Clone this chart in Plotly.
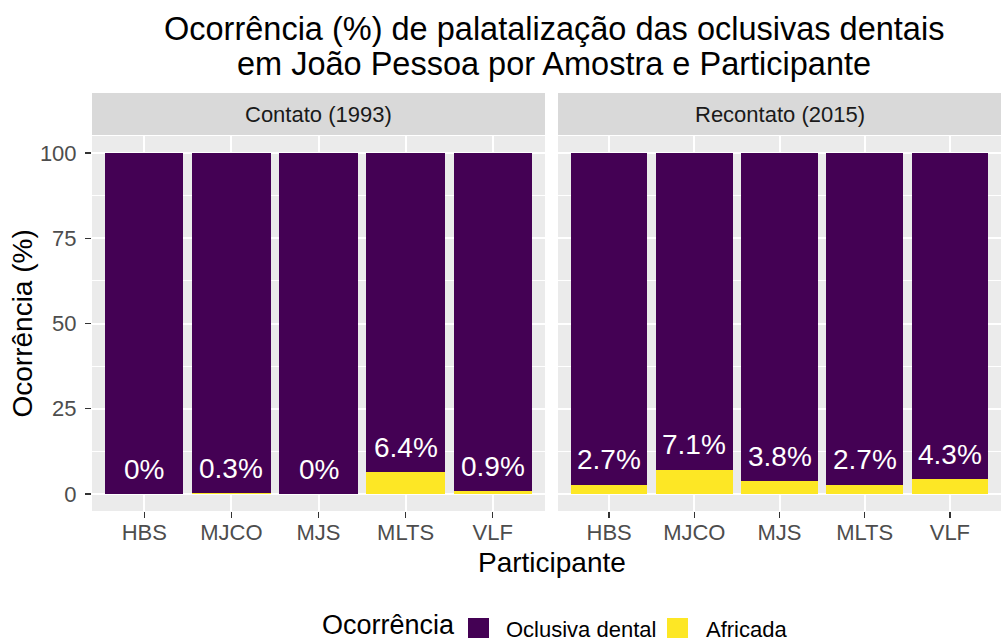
import plotly.graph_objects as go
from plotly.subplots import make_subplots

participants = ["HBS", "MJCO", "MJS", "MLTS", "VLF"]
facets = ["Contato (1993)", "Recontato (2015)"]
africada_contato = [0.0, 0.3, 0.0, 6.4, 0.9]
africada_recontato = [2.7, 7.1, 3.8, 2.7, 4.3]
labels_contato = ["0%", "0.3%", "0%", "6.4%", "0.9%"]
labels_recontato = ["2.7%", "7.1%", "3.8%", "2.7%", "4.3%"]
series_names = ["Oclusiva dental", "Africada"]
colors = {"Oclusiva dental": "#440154", "Africada": "#FDE725"}
y_ticks = [0, 25, 50, 75, 100]
y_minor = [12.5, 37.5, 62.5, 87.5]

FONT = "Liberation Sans, Arial, sans-serif"
PANEL_BG = "#EBEBEB"
W, H = 1004, 642
L, R, T, B = 92, 3, 93, 131
PW, PH = W - L - R, H - T - B


def px_x(px):
    return (px - L) / PW


def px_y(py):
    return (H - B - py) / PH


fig = make_subplots(rows=1, cols=2, shared_yaxes=True)

data = [(africada_contato, labels_contato), (africada_recontato, labels_recontato)]
for i, (afr, labs) in enumerate(data):
    col = i + 1
    ocl = [100 - v for v in afr]
    fig.add_trace(go.Bar(x=participants, y=afr, marker_color=colors["Africada"], width=0.9,
                         marker_line_width=0, showlegend=False, hoverinfo="skip"), row=1, col=col)
    fig.add_trace(go.Bar(x=participants, y=ocl, marker_color=colors["Oclusiva dental"], width=0.9,
                         marker_line_width=0, showlegend=False, hoverinfo="skip"), row=1, col=col)
    sfx = "" if col == 1 else str(col)
    for p, v, t in zip(participants, afr, labs):
        fig.add_annotation(x=p, y=v + 7.3, text=t, showarrow=False, xref="x" + sfx, yref="y" + sfx,
                           font=dict(family=FONT, size=28, color="white"),
                           yanchor="middle", xanchor="center")

fig.update_layout(barmode="stack")

doms = [[0, px_x(545)], [px_x(558), 1]]
for i in range(2):
    ax = "xaxis" if i == 0 else "xaxis2"
    ay = "yaxis" if i == 0 else "yaxis2"
    fig.layout[ax].update(domain=doms[i], range=[-0.6, 4.6], showgrid=True, gridcolor="white", gridwidth=2,
                          ticks="outside", ticklen=6, tickcolor="#333333", tickwidth=1.5,
                          ticklabelstandoff=-4, automargin=False,
                          tickfont=dict(family=FONT, size=22, color="#4D4D4D"), zeroline=False,
                          categoryorder="array", categoryarray=participants)
    fig.layout[ay].update(domain=[0, px_y(136)], range=[-5, 105], showgrid=True, gridcolor="white", gridwidth=2,
                          tickvals=y_ticks, zeroline=False, automargin=False,
                          ticks="outside" if i == 0 else "", ticklen=6, tickcolor="#333333", tickwidth=1.5,
                          showticklabels=(i == 0), ticklabelstandoff=4,
                          tickfont=dict(family=FONT, size=22, color="#4D4D4D"),
                          minor=dict(tickvals=y_minor, showgrid=True, gridcolor="white",
                                     gridwidth=1, ticks=""))
    # strip
    fig.add_shape(type="rect", xref="paper", yref="paper", x0=doms[i][0], x1=doms[i][1], y0=px_y(135), y1=1.0,
                  fillcolor="#D9D9D9", line_width=0, layer="below")
    fig.add_annotation(xref="paper", yref="paper", x=(doms[i][0] + doms[i][1]) / 2, y=px_y(114), text=facets[i],
                       showarrow=False, font=dict(family=FONT, size=22, color="#1A1A1A"),
                       xanchor="center", yanchor="middle")
    # panel background
    fig.add_shape(type="rect", xref="paper", yref="paper", x0=doms[i][0], x1=doms[i][1], y0=0, y1=px_y(136),
                  fillcolor=PANEL_BG, line_width=0, layer="below")

# axis titles
fig.add_annotation(xref="paper", yref="paper", x=px_x(552), y=px_y(562), text="Participante", showarrow=False,
                   font=dict(family=FONT, size=28, color="black"), xanchor="center", yanchor="middle")
fig.add_annotation(xref="paper", yref="paper", x=px_x(22), y=px_y(323.5), text="Ocorrência (%)", showarrow=False,
                   textangle=-90, font=dict(family=FONT, size=28, color="black"), xanchor="center",
                   yanchor="middle")

# title (two lines)
title_lines = ["Ocorrência (%) de palatalização das oclusivas dentais",
               "em João Pessoa por Amostra e Participante"]
for line, yc in zip(title_lines, [29, 64]):
    fig.add_annotation(xref="paper", yref="paper", x=px_x(554), y=px_y(yc), text=line, showarrow=False,
                       font=dict(family=FONT, size=32.5, color="black"), yanchor="middle", xanchor="center")

# legend (manual, ggplot-style)
fig.add_annotation(xref="paper", yref="paper", x=px_x(320), y=px_y(642), text="Ocorrência", showarrow=False,
                   font=dict(family=FONT, size=27, color="black"), xanchor="left", yanchor="bottom")
key_x = [468, 667]
text_x = [504, 704]
for name, kx, tx in zip(series_names, key_x, text_x):
    fig.add_shape(type="rect", xref="paper", yref="paper", x0=px_x(kx), x1=px_x(kx + 21),
                  y0=px_y(638), y1=px_y(618), fillcolor=colors[name], line_width=0)
    fig.add_annotation(xref="paper", yref="paper", x=px_x(tx), y=px_y(629), text=name, showarrow=False,
                       font=dict(family=FONT, size=22, color="black"), xanchor="left", yanchor="middle")

fig.update_layout(
    width=W, height=H,
    margin=dict(l=L, r=R, t=T, b=B, autoexpand=False),
    paper_bgcolor="white", plot_bgcolor=PANEL_BG,
    showlegend=False,
    bargap=0.1,
)

fig.write_html("out.html", config={"displayModeBar": False, "staticPlot": True},
               post_script="document.body.style.margin='0';document.body.style.overflow='hidden';")
